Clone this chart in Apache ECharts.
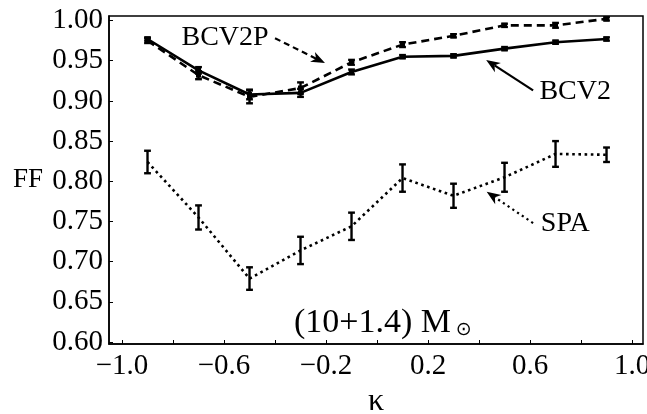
<!DOCTYPE html>
<html>
<head>
<meta charset="utf-8">
<script src="https://cdn.jsdelivr.net/npm/echarts@6/dist/echarts.min.js"></script>
<style>
html,body{margin:0;padding:0;background:#fff;}
#c{width:647px;height:414px;}
</style>
</head>
<body>
<div id="c"></div>
<script>
// ---- data ----
const kappa = [-0.9, -0.7, -0.5, -0.3, -0.1, 0.1, 0.3, 0.5, 0.7, 0.9];
const bcv2 = [0.977, 0.938, 0.908, 0.910, 0.936, 0.955, 0.956, 0.965, 0.973, 0.977];
const bcv2Err = [0.002, 0.004, 0.006, 0.005, 0.003, 0.002, 0.002, 0.002, 0.002, 0.002];
const bcv2p = [0.975, 0.932, 0.905, 0.916, 0.948, 0.970, 0.981, 0.994, 0.994, 1.002];
const bcv2pErr = [0.003, 0.005, 0.008, 0.007, 0.003, 0.003, 0.002, 0.002, 0.003, 0.002];
const spa = [0.824, 0.755, 0.679, 0.714, 0.744, 0.804, 0.782, 0.805, 0.834, 0.833];
const spaErr = [0.014, 0.015, 0.014, 0.017, 0.017, 0.017, 0.015, 0.018, 0.016, 0.009];

const xTicks = [-1.0, -0.8, -0.6, -0.4, -0.2, 0.0, 0.2, 0.4, 0.6, 0.8, 1.0];
const xLabels = [-1.0, -0.6, -0.2, 0.2, 0.6, 1.0];
const yTicks = [0.60, 0.65, 0.70, 0.75, 0.80, 0.85, 0.90, 0.95, 1.00];

// annotations in data coordinates
const labelBCV2P = [-0.596, 0.979];
const labelBCV2 = [0.777, 0.911];
const labelSPA = [0.738, 0.747];
const labelMass = [-0.018, 0.624];
const labelSun = [0.340, 0.615];
const arrowBCV2P = [[-0.400, 0.978], [-0.204, 0.947]];
const arrowBCV2 = [[0.612, 0.913], [0.428, 0.951]];
const arrowSPA = [[0.612, 0.748], [0.430, 0.787]];

const FONT = '"Liberation Serif", "Times New Roman", serif';

function pairs(ys) { return kappa.map((k, i) => [k, ys[i]]); }
function errData(ys, es) { return kappa.map((k, i) => [k, ys[i] - es[i], ys[i] + es[i]]); }

function errSeries(ys, es) {
  return {
    type: 'custom',
    silent: true,
    z: 5,
    data: errData(ys, es),
    renderItem: function (params, api) {
      const x = api.value(0);
      const p1 = api.coord([x, api.value(1)]);
      const p2 = api.coord([x, api.value(2)]);
      const w = 3.4;
      const st = { stroke: '#000', lineWidth: 2.4 };
      return {
        type: 'group',
        children: [
          { type: 'line', shape: { x1: p1[0], y1: p1[1], x2: p2[0], y2: p2[1] }, style: st },
          { type: 'line', shape: { x1: p1[0] - w, y1: p1[1], x2: p1[0] + w, y2: p1[1] }, style: st },
          { type: 'line', shape: { x1: p2[0] - w, y1: p2[1], x2: p2[0] + w, y2: p2[1] }, style: st }
        ]
      };
    }
  };
}

function arrowSeries(a, dash) {
  return {
    type: 'custom',
    silent: true,
    z: 6,
    data: [[a[0][0], a[0][1], a[1][0], a[1][1]]],
    renderItem: function (params, api) {
      const s = api.coord([api.value(0), api.value(1)]);
      const e = api.coord([api.value(2), api.value(3)]);
      const dx = e[0] - s[0], dy = e[1] - s[1];
      const L = Math.hypot(dx, dy), ux = dx / L, uy = dy / L;
      const nx = -uy, ny = ux;
      const hl = 14, hw = 5.5, notch = 4;
      const bx = e[0] - ux * hl, by = e[1] - uy * hl;
      const mx = e[0] - ux * (hl - notch), my = e[1] - uy * (hl - notch);
      return {
        type: 'group',
        children: [
          { type: 'line', shape: { x1: s[0], y1: s[1], x2: mx, y2: my },
            style: { stroke: '#000', lineWidth: 2.2, lineDash: dash } },
          { type: 'polygon', shape: { points: [e, [bx + nx * hw, by + ny * hw], [mx, my], [bx - nx * hw, by - ny * hw]] },
            style: { fill: '#000' } }
        ]
      };
    }
  };
}

function textMark(pos, text, size, family) {
  return {
    coord: pos, symbol: 'circle', symbolSize: 0,
    label: { show: true, position: 'inside', formatter: text, color: '#000', fontFamily: family || FONT, fontSize: size }
  };
}

const chart = echarts.init(document.getElementById('c'), null, { renderer: 'canvas' });
chart.setOption({
  animation: false,
  backgroundColor: '#fff',
  grid: { left: 109, right: 4, top: 16, bottom: 70, containLabel: false, outerBoundsMode: 'none',
          show: true, borderColor: '#000', borderWidth: 1.5, backgroundColor: 'transparent' },
  xAxis: {
    type: 'value', min: -1.051, max: 1.043,
    name: 'κ', nameLocation: 'middle', nameGap: 36,
    nameTextStyle: { fontFamily: FONT, fontSize: 32, color: '#000' },
    axisLine: { onZero: false, lineStyle: { color: '#000', width: 1.5 } },
    axisTick: { inside: true, length: 4, customValues: xTicks, lineStyle: { color: '#000', width: 1 } },
    axisLabel: {
      customValues: xLabels, margin: 8, color: '#000', fontFamily: FONT, fontSize: 29,
      formatter: v => v.toFixed(1).replace('-', '\u2212')
    },
    splitLine: { show: false }
  },
  yAxis: {
    type: 'value', min: 0.5976, max: 1.0056,
    name: 'FF', nameLocation: 'middle', nameGap: 66, nameRotate: 0,
    nameTextStyle: { fontFamily: FONT, fontSize: 27, color: '#000' },
    axisLine: { onZero: false, lineStyle: { color: '#000', width: 1.5 } },
    axisTick: { inside: true, length: 4, customValues: yTicks, lineStyle: { color: '#000', width: 1 } },
    axisLabel: {
      customValues: yTicks, margin: 6, color: '#000', fontFamily: FONT, fontSize: 29,
      formatter: v => v.toFixed(2)
    },
    splitLine: { show: false }
  },
  series: [
    {
      name: 'SPA', type: 'line', data: pairs(spa),
      symbol: 'none', z: 3,
      lineStyle: { color: '#000', width: 2.6, type: [2.6, 3.6] },
      markPoint: { silent: true, animation: false, data: [
        textMark(labelSPA, 'SPA', 28),
        textMark(labelMass, '(10+1.4) M', 34),
        textMark(labelSun, '⊙', 19, '"DejaVu Sans"')
      ] }
    },
    {
      name: 'BCV2P', type: 'line', data: pairs(bcv2p),
      symbol: 'rect', symbolSize: 5, z: 4,
      itemStyle: { color: '#000' },
      lineStyle: { color: '#000', width: 2.6, type: [8, 5] },
      markPoint: { silent: true, animation: false, data: [textMark(labelBCV2P, 'BCV2P', 28)] }
    },
    {
      name: 'BCV2', type: 'line', data: pairs(bcv2),
      symbol: 'rect', symbolSize: 5, z: 4,
      itemStyle: { color: '#000' },
      lineStyle: { color: '#000', width: 2.6, type: 'solid' },
      markPoint: { silent: true, animation: false, data: [textMark(labelBCV2, 'BCV2', 28)] }
    },
    errSeries(spa, spaErr),
    errSeries(bcv2p, bcv2pErr),
    errSeries(bcv2, bcv2Err),
    arrowSeries(arrowBCV2P, [6, 4]),
    arrowSeries(arrowBCV2, null),
    arrowSeries(arrowSPA, [2.2, 3.5])
  ]
});
</script>
</body>
</html>
